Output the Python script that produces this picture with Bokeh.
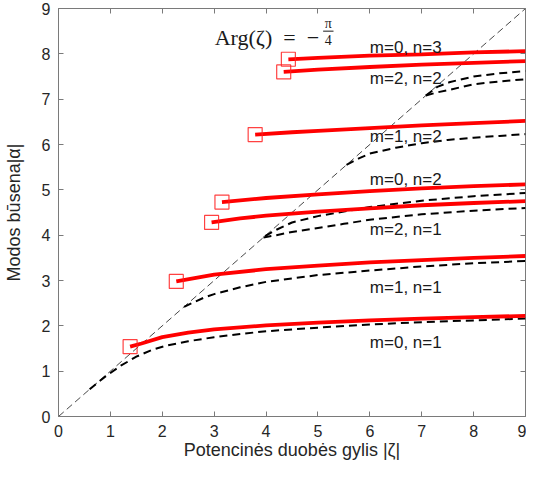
from bokeh.plotting import figure
from bokeh.models import Range1d, LinearAxis, FixedTicker, Label, ColumnDataSource
from bokeh.core.properties import value
from bokeh.embed import file_html
from bokeh.resources import INLINE

# ---- data ----
diag_x = [0, 9]
diag_y = [0, 9]

# red solid curves (start marked with a square)
r01_x = [1.38, 1.6, 2.0, 2.5, 3.0, 4.0, 5.0, 6.0, 7.0, 8.0, 9.0]
r01_y = [1.54, 1.61, 1.75, 1.85, 1.92, 2.01, 2.07, 2.12, 2.16, 2.19, 2.22]
r11_x = [2.27, 3.0, 4.0, 5.0, 6.0, 7.0, 8.0, 9.0]
r11_y = [2.98, 3.13, 3.25, 3.33, 3.40, 3.45, 3.50, 3.54]
r21_x = [2.95, 3.5, 4.0, 5.0, 6.0, 7.0, 8.0, 9.0]
r21_y = [4.28, 4.37, 4.43, 4.52, 4.59, 4.66, 4.71, 4.75]
r02_x = [3.15, 4.0, 5.0, 6.0, 7.0, 8.0, 9.0]
r02_y = [4.73, 4.82, 4.90, 4.97, 5.03, 5.08, 5.12]
r12_x = [3.79, 4.5, 5.0, 6.0, 7.0, 8.0, 9.0]
r12_y = [6.22, 6.27, 6.30, 6.36, 6.42, 6.47, 6.52]
r22_x = [4.34, 5.0, 6.0, 7.0, 8.0, 9.0]
r22_y = [7.60, 7.65, 7.71, 7.76, 7.80, 7.84]
r03_x = [4.43, 5.0, 6.0, 7.0, 8.0, 9.0]
r03_y = [7.88, 7.91, 7.96, 7.99, 8.03, 8.06]

# black dashed curves
d01_x = [0.6, 0.9, 1.2, 1.5, 1.8, 2.1, 2.5, 3.0, 3.5, 4.0, 5.0, 6.0, 7.0, 8.0, 9.0]
d01_y = [0.6, 0.88, 1.12, 1.32, 1.47, 1.57, 1.66, 1.75, 1.82, 1.88, 1.96, 2.03, 2.08, 2.12, 2.16]
d11_x = [2.42, 2.8, 3.0, 3.5, 4.0, 5.0, 6.0, 7.0, 8.0, 9.0]
d11_y = [2.42, 2.62, 2.70, 2.85, 2.97, 3.12, 3.22, 3.31, 3.38, 3.43]
d21_x = [3.95, 4.2, 4.5, 5.0, 5.5, 6.0, 7.0, 8.0, 9.0]
d21_y = [3.95, 4.00, 4.07, 4.16, 4.25, 4.34, 4.46, 4.54, 4.60]
d02_x = [3.98, 4.2, 4.5, 5.0, 5.5, 6.0, 7.0, 8.0, 9.0]
d02_y = [3.98, 4.12, 4.28, 4.42, 4.52, 4.62, 4.76, 4.86, 4.93]
d12_x = [5.55, 5.8, 6.0, 6.5, 7.0, 7.5, 8.0, 8.5, 9.0]
d12_y = [5.55, 5.70, 5.80, 5.93, 6.03, 6.10, 6.15, 6.19, 6.23]
d22_x = [7.08, 7.3, 7.55, 8.0, 8.5, 9.0]
d22_y = [7.08, 7.15, 7.21, 7.33, 7.39, 7.44]
d03_x = [7.08, 7.3, 7.55, 8.0, 8.5, 9.0]
d03_y = [7.08, 7.27, 7.38, 7.50, 7.57, 7.62]

label_text = ["m=0, n=3", "m=2, n=2", "m=1, n=2", "m=0, n=2", "m=2, n=1", "m=1, n=1", "m=0, n=1"]
label_x = [6.0, 6.0, 6.0, 6.0, 6.0, 6.0, 6.0]
label_y = [8.15, 7.46, 6.18, 5.23, 4.13, 2.85, 1.64]

ticks = [0, 1, 2, 3, 4, 5, 6, 7, 8, 9]

red_curves = [(r01_x, r01_y), (r11_x, r11_y), (r21_x, r21_y), (r02_x, r02_y),
              (r12_x, r12_y), (r22_x, r22_y), (r03_x, r03_y)]
dash_curves = [(d01_x, d01_y), (d11_x, d11_y), (d21_x, d21_y), (d02_x, d02_y),
               (d12_x, d12_y), (d22_x, d22_y), (d03_x, d03_y)]

FONT = "Liberation Sans"
TXT = "#262626"
AX = "#7a7a7a"

p = figure(width=526, height=463, x_range=Range1d(0, 9), y_range=Range1d(0, 9),
           output_backend="svg", toolbar_location=None,
           min_border_left=58, min_border_right=1, min_border_top=8, min_border_bottom=47,
           x_axis_label="Potencinės duobės gylis |ζ|", y_axis_label="Modos būsena|α|")
p.background_fill_color = "white"
p.border_fill_color = "white"
p.outline_line_color = AX
p.outline_line_width = 1
p.xgrid.visible = False
p.ygrid.visible = False

for ax in (p.xaxis[0], p.yaxis[0]):
    ax.ticker = FixedTicker(ticks=ticks)
    ax.axis_line_color = AX
    ax.major_tick_line_color = AX
    ax.major_tick_in = 5
    ax.major_tick_out = 0
    ax.minor_tick_line_color = None
    ax.major_label_text_font = FONT
    ax.major_label_text_font_size = "16px"
    ax.major_label_text_color = TXT
    ax.axis_label_text_font = FONT
    ax.axis_label_text_font_size = "18px"
    ax.axis_label_text_font_style = "normal"
    ax.axis_label_text_color = TXT
p.xaxis[0].major_label_standoff = 8
p.xaxis[0].axis_label_standoff = 0
p.yaxis[0].major_label_standoff = 8
p.yaxis[0].axis_label_standoff = 15

for side in ("above", "right"):
    ax = LinearAxis(ticker=FixedTicker(ticks=ticks), major_label_text_font_size="1px",
                    major_label_text_color=None, axis_line_color=None,
                    major_tick_line_color=AX, major_tick_in=5, major_tick_out=0,
                    minor_tick_line_color=None, major_label_standoff=0, axis_label_standoff=0)
    p.add_layout(ax, side)

# diagonal reference line
p.line(diag_x, diag_y, line_color="#333333", line_width=0.9, line_dash="7 4")

for xs, ys in dash_curves:
    p.line(xs, ys, line_color="black", line_width=2, line_dash="8 5")

for xs, ys in red_curves:
    p.line(xs, ys, line_color="#ff0000", line_width=3.8)

sq_x = [c[0][0] for c in red_curves]
sq_y = [c[1][0] for c in red_curves]
p.scatter(sq_x, sq_y, marker="square", size=14, fill_color=None,
          line_color="#ff2020", line_width=1.2, line_alpha=0.85)

src = ColumnDataSource(dict(x=label_x, y=label_y, t=label_text))
p.text(x="x", y="y", text="t", source=src, text_font=value(FONT), text_font_size="17px",
       text_color="#1a1a1a", text_baseline="middle", text_align="left")

# title annotation  Arg(ζ) = −π/4
SERIF = "Liberation Serif"
p.add_layout(Label(x=3.01, y=8.37, text="Arg(ζ)\u2002=\u2002−", text_font=SERIF,
                   text_font_size="22px", text_color="#1a1a1a",
                   text_baseline="alphabetic", text_align="left"))
p.add_layout(Label(x=5.2, y=8.68, text="π", text_font=SERIF, text_font_size="14px",
                   text_color="#1a1a1a", text_baseline="middle", text_align="center"))
p.add_layout(Label(x=5.2, y=8.31, text="4", text_font=SERIF, text_font_size="14px",
                   text_color="#1a1a1a", text_baseline="middle", text_align="center"))
p.line([5.1, 5.3], [8.5, 8.5], line_color="#1a1a1a", line_width=1)

open("out.html", "w").write(file_html(p, INLINE))
